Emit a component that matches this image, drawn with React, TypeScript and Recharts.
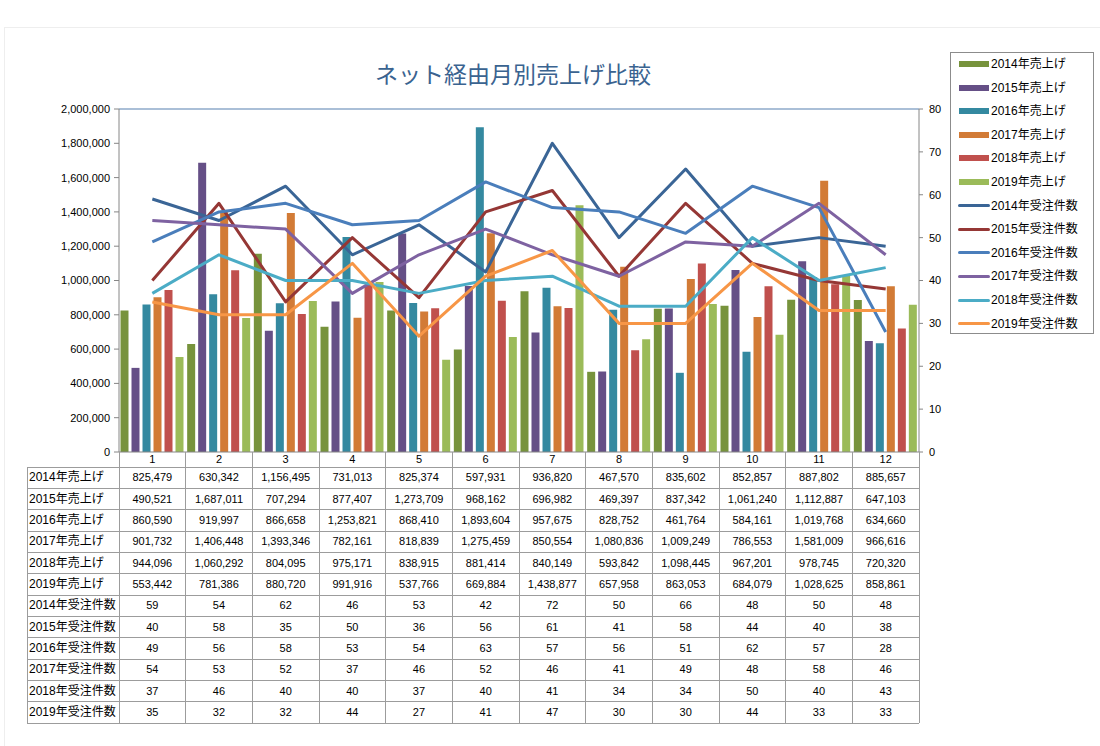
import React from 'react';
import { ComposedChart, Bar, Line, XAxis, YAxis, ReferenceLine } from 'recharts';

const months = ['1', '2', '3', '4', '5', '6', '7', '8', '9', '10', '11', '12'];

const sales2014 = [825479, 630342, 1156495, 731013, 825374, 597931, 936820, 467570, 835602, 852857, 887802, 885657];
const sales2015 = [490521, 1687011, 707294, 877407, 1273709, 968162, 696982, 469397, 837342, 1061240, 1112887, 647103];
const sales2016 = [860590, 919997, 866658, 1253821, 868410, 1893604, 957675, 828752, 461764, 584161, 1019768, 634660];
const sales2017 = [901732, 1406448, 1393346, 782161, 818839, 1275459, 850554, 1080836, 1009249, 786553, 1581009, 966616];
const sales2018 = [944096, 1060292, 804095, 975171, 838915, 881414, 840149, 593842, 1098445, 967201, 978745, 720320];
const sales2019 = [553442, 781386, 880720, 991916, 537766, 669884, 1438877, 657958, 863053, 684079, 1028625, 858861];

const orders2014 = [59, 54, 62, 46, 53, 42, 72, 50, 66, 48, 50, 48];
const orders2015 = [40, 58, 35, 50, 36, 56, 61, 41, 58, 44, 40, 38];
const orders2016 = [49, 56, 58, 53, 54, 63, 57, 56, 51, 62, 57, 28];
const orders2017 = [54, 53, 52, 37, 46, 52, 46, 41, 49, 48, 58, 46];
const orders2018 = [37, 46, 40, 40, 37, 40, 41, 34, 34, 50, 40, 43];
const orders2019 = [35, 32, 32, 44, 27, 41, 47, 30, 30, 44, 33, 33];

const leftTicks = [0, 200000, 400000, 600000, 800000, 1000000, 1200000, 1400000, 1600000, 1800000, 2000000];
const rightTicks = [0, 10, 20, 30, 40, 50, 60, 70, 80];

const title = 'ネット経由月別売上げ比較';

const salesSeries = [
  { key: 's2014', name: '2014年売上げ', values: sales2014, color: '#77933C' },
  { key: 's2015', name: '2015年売上げ', values: sales2015, color: '#654F86' },
  { key: 's2016', name: '2016年売上げ', values: sales2016, color: '#3489A0' },
  { key: 's2017', name: '2017年売上げ', values: sales2017, color: '#D27B36' },
  { key: 's2018', name: '2018年売上げ', values: sales2018, color: '#C0504D' },
  { key: 's2019', name: '2019年売上げ', values: sales2019, color: '#9BBB59' },
];

const orderSeries = [
  { key: 'o2014', name: '2014年受注件数', values: orders2014, color: '#3A6596' },
  { key: 'o2015', name: '2015年受注件数', values: orders2015, color: '#953735' },
  { key: 'o2016', name: '2016年受注件数', values: orders2016, color: '#4A7EBB' },
  { key: 'o2017', name: '2017年受注件数', values: orders2017, color: '#7E62A1' },
  { key: 'o2018', name: '2018年受注件数', values: orders2018, color: '#4BACC6' },
  { key: 'o2019', name: '2019年受注件数', values: orders2019, color: '#F79646' },
];

const data = months.map((m, i) => {
  const row: Record<string, any> = { month: m };
  salesSeries.forEach((s) => (row[s.key] = s.values[i]));
  orderSeries.forEach((s) => (row[s.key] = s.values[i]));
  return row;
});

const FONT = "'Liberation Sans', Arial, 'Noto Sans CJK JP', sans-serif";

const W = 1100;
const H = 746;
const PLOT_L = 119;
const PLOT_R = 919;
const PLOT_T = 109;
const PLOT_B = 452;
const X_AXIS_H = 16;
const TABLE_TOP = 467.3;
const ROW_H = 21.33;
const TABLE_L = 27;

const fmt = (v: number) => v.toLocaleString('en-US');

export default function App() {
  const colW = (PLOT_R - PLOT_L) / months.length;
  const tableRows = [
    ...salesSeries.map((s) => ({ name: s.name, values: s.values.map(fmt) })),
    ...orderSeries.map((s) => ({ name: s.name, values: s.values.map((v) => String(v)) })),
  ];
  const tableBottom = TABLE_TOP + ROW_H * tableRows.length;
  const lineColor = '#9c9c9c';

  return (
    <div style={{ position: 'absolute', left: 0, top: 0, width: W, height: H, background: '#fff', overflow: 'hidden', fontFamily: FONT }}>
      <div style={{ position: 'absolute', left: 4, top: 27, width: 1200, height: 800, borderLeft: '1px solid #eeeeee', borderTop: '1px solid #eeeeee' }} />
      <div style={{ position: 'absolute', left: 0, width: 1026, top: 61, textAlign: 'center', fontSize: 23, lineHeight: '24px', color: '#3A6390', fontFamily: "'Noto Sans CJK JP', sans-serif" }}>
        {title}
      </div>
      <div style={{ position: 'absolute', left: 0, top: 0 }}>
        <ComposedChart
          width={W}
          height={H}
          data={data}
          margin={{ top: PLOT_T, right: W - PLOT_R - 60, bottom: H - PLOT_B - X_AXIS_H, left: 0 }}
          barCategoryGap={1.5}
          barGap={3}
        >
          <XAxis
            dataKey="month"
            height={X_AXIS_H}
            axisLine={{ stroke: '#868686' }}
            tickLine={false}
            tickSize={0}
            tickMargin={3}
            tick={{ fontSize: 11, fill: '#000', fontFamily: FONT }}
            interval={0}
          />
          <YAxis
            yAxisId="left"
            width={PLOT_L}
            domain={[0, 2000000]}
            ticks={leftTicks}
            tickFormatter={fmt}
            axisLine={{ stroke: '#868686' }}
            tickLine={{ stroke: '#868686' }}
            tickSize={5}
            tickMargin={4}
            tick={{ fontSize: 11, fill: '#000', fontFamily: FONT }}
            interval={0}
          />
          <YAxis
            yAxisId="right"
            orientation="right"
            width={60}
            domain={[0, 80]}
            ticks={rightTicks}
            axisLine={{ stroke: '#868686' }}
            tickLine={{ stroke: '#868686' }}
            tickSize={4}
            tickMargin={6}
            tick={{ fontSize: 11, fill: '#000', fontFamily: FONT }}
            interval={0}
          />
          <ReferenceLine yAxisId="left" y={2000000} stroke="#8EAACA" strokeWidth={1.5} />
          {salesSeries.map((s) => (
            <Bar key={s.key} yAxisId="left" dataKey={s.key} name={s.name} fill={s.color} isAnimationActive={false} />
          ))}
          {orderSeries.map((s) => (
            <Line
              key={s.key}
              yAxisId="right"
              type="linear"
              dataKey={s.key}
              name={s.name}
              stroke={s.color}
              strokeWidth={3}
              dot={false}
              activeDot={false}
              strokeLinejoin="round"
              isAnimationActive={false}
            />
          ))}
        </ComposedChart>
      </div>

      {/* data table */}
      <div style={{ position: 'absolute', left: 0, top: 0, width: W, height: H, pointerEvents: 'none' }}>
        {Array.from({ length: months.length + 1 }).map((_, c) => (
          <div
            key={'v' + c}
            style={{ position: 'absolute', left: PLOT_L + c * colW - 0.5, top: PLOT_B, width: 1, height: tableBottom - PLOT_B, background: lineColor }}
          />
        ))}
        <div style={{ position: 'absolute', left: TABLE_L - 0.5, top: TABLE_TOP, width: 1, height: tableBottom - TABLE_TOP, background: lineColor }} />
        {Array.from({ length: tableRows.length + 1 }).map((_, r) => (
          <div
            key={'h' + r}
            style={{ position: 'absolute', left: TABLE_L, top: TABLE_TOP + r * ROW_H - 0.5, width: PLOT_R - TABLE_L, height: 1, background: lineColor }}
          />
        ))}
        {tableRows.map((row, r) => (
          <React.Fragment key={'r' + r}>
            <div
              style={{ position: 'absolute', left: TABLE_L + 2, top: TABLE_TOP + r * ROW_H, height: ROW_H, lineHeight: ROW_H + 'px', fontSize: 12, color: '#000', whiteSpace: 'nowrap' }}
            >
              {row.name}
            </div>
            {row.values.map((v, c) => (
              <div
                key={c}
                style={{ position: 'absolute', left: PLOT_L + c * colW, width: colW, top: TABLE_TOP + r * ROW_H, height: ROW_H, lineHeight: ROW_H + 'px', fontSize: 11, textAlign: 'center', color: '#000' }}
              >
                {v}
              </div>
            ))}
          </React.Fragment>
        ))}
      </div>

      {/* legend */}
      <div style={{ position: 'absolute', left: 950, top: 52, width: 142, height: 280, border: '1px solid #8c8c8c', background: '#fff' }}>
        {[...salesSeries.map((s) => ({ ...s, kind: 'bar' })), ...orderSeries.map((s) => ({ ...s, kind: 'line' }))].map((s, i) => (
          <div key={s.key} style={{ position: 'absolute', left: 0, top: 11 + i * 23.6 - 10, height: 20, width: 142 }}>
            {s.kind === 'bar' ? (
              <div style={{ position: 'absolute', left: 8, top: 7, width: 30, height: 6, background: s.color }} />
            ) : (
              <div style={{ position: 'absolute', left: 7, top: 8.5, width: 32, height: 3, borderRadius: 2, background: s.color }} />
            )}
            <div style={{ position: 'absolute', left: 40, top: 0, lineHeight: '20px', fontSize: 12, color: '#000', whiteSpace: 'nowrap' }}>{s.name}</div>
          </div>
        ))}
      </div>
    </div>
  );
}
